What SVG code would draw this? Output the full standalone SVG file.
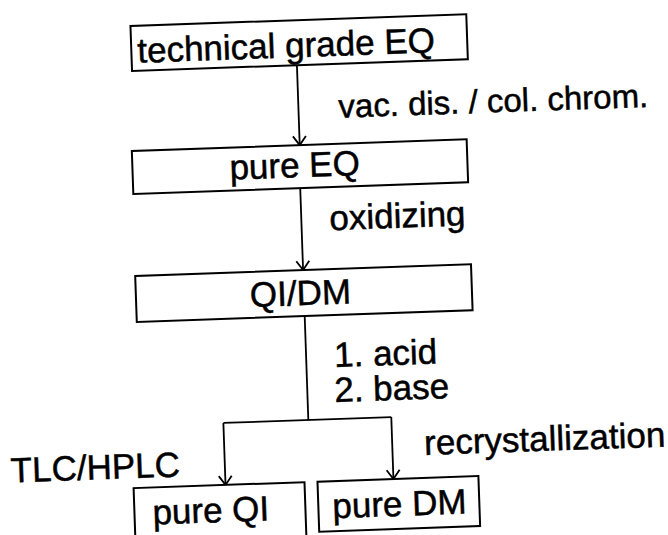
<svg xmlns="http://www.w3.org/2000/svg" width="668" height="535" viewBox="0 0 668 535">
<style>
.box{fill:#fff;stroke:#000;stroke-width:2}
.t{font-family:"Liberation Sans",Arial,Helvetica,sans-serif;font-size:35px;fill:#000;stroke:#000;stroke-width:0.5}
.c{fill:none;stroke:#000;stroke-width:1.8}
</style>
<defs>
<marker id="ah" markerUnits="userSpaceOnUse" viewBox="0 0 16 16" markerWidth="16" markerHeight="16" refX="10" refY="8" orient="auto">
<path d="M1,1.5 L10,8 L1,14.5" fill="none" stroke="#000" stroke-width="1.8"/>
</marker>
</defs>
<rect width="668" height="535" fill="#fff"/>
<g transform="rotate(-2 334 267)">
<g id="connectors">
<line class="c" x1="304" y1="64" x2="304" y2="144" marker-end="url(#ah)"/>
<text class="t" x="344" y="118" style="font-size:33px">vac. dis. / col. chrom.</text>
<line class="c" x1="303" y1="187" x2="303" y2="269" marker-end="url(#ah)"/>
<text class="t" x="331" y="230">oxidizing</text>
<polyline class="c" points="303,315 303,419"/>
<text class="t" x="331" y="367">1. acid</text>
<text class="t" x="330" y="402">2. base</text>
<polyline class="c" points="218,419 386,419"/>
<line class="c" x1="218" y1="419" x2="218" y2="481" marker-end="url(#ah)"/>
<line class="c" x1="386" y1="419" x2="386" y2="481" marker-end="url(#ah)"/>
<text class="t" x="173" y="471" text-anchor="end">TLC/HPLC</text>
<text class="t" x="418" y="458">recrystallization</text>
</g>
<g id="node-technical-grade-eq">
<rect class="box" x="139" y="19" width="336" height="45"/>
<text class="t" x="145" y="56">technical grade EQ</text>
</g>
<g id="node-pure-eq">
<rect class="box" x="136" y="144" width="335" height="43"/>
<text class="t" x="233" y="176">pure EQ</text>
</g>
<g id="node-qi-dm">
<rect class="box" x="135" y="269" width="336" height="46"/>
<text class="t" x="249" y="304">QI/DM</text>
</g>
<g id="node-pure-qi">
<rect class="box" x="126" y="481" width="171" height="65"/>
<text class="t" x="144" y="518">pure QI</text>
</g>
<g id="node-pure-dm">
<rect class="box" x="310" y="481" width="161" height="50"/>
<text class="t" x="324" y="518">pure DM</text>
</g>
</g>
</svg>
